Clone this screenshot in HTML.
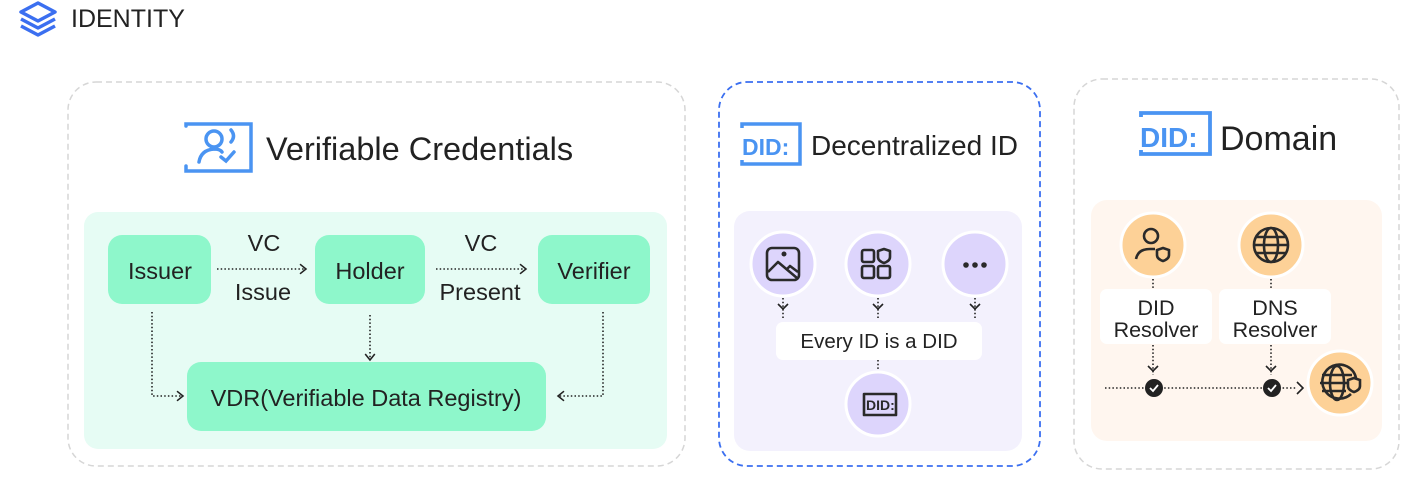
<!DOCTYPE html>
<html><head><meta charset="utf-8"><style>
html,body{margin:0;padding:0;background:#fff;}
svg{display:block;font-family:"Liberation Sans",sans-serif;}
</style></head><body>
<svg width="1419" height="487" viewBox="0 0 1419 487" xmlns="http://www.w3.org/2000/svg">
<defs>
<marker id="ar" viewBox="0 0 10 10" refX="8" refY="5" markerWidth="12" markerHeight="12" orient="auto" markerUnits="userSpaceOnUse"><path d="M3 1 L8 5 L3 9" fill="none" stroke="#222" stroke-width="1.3"/></marker>
</defs>
<!-- header -->
<g fill="none" stroke="#3b6ff0" stroke-width="3.5" stroke-linejoin="round">
<path d="M38 3 L55 12 L38 21 L21 12 Z"/>
<path d="M21 19 L38 28 L55 19"/>
<path d="M21 26 L38 35 L55 26"/>
</g>
<text x="71" y="27" font-size="25" fill="#222">IDENTITY</text>

<!-- panel 1 -->
<rect x="68" y="82" width="617" height="384" rx="28" fill="#fff" stroke="#d6d6d6" stroke-width="1.5" stroke-dasharray="6 4"/>
<g fill="none" stroke="#4a94f2" stroke-width="3.5" stroke-linecap="round">
<path d="M186 126 L186 124 L251 124 L251 171 L186 171 L186 166"/>
<circle cx="214" cy="139" r="8"/>
<path d="M199 162 Q201 150 214 149 Q220 149 222 152"/>
<path d="M231 130 Q236 136 231 142"/>
<path d="M221 157 L226 161 L234 152"/>
</g>
<text x="266" y="160" font-size="32.5" fill="#222">Verifiable Credentials</text>
<rect x="84" y="212" width="583" height="237" rx="14" fill="#e6fcf4"/>
<rect x="108" y="235" width="103" height="69" rx="14" fill="#8ef7cb"/>
<rect x="315" y="235" width="110" height="69" rx="14" fill="#8ef7cb"/>
<rect x="538" y="235" width="112" height="69" rx="14" fill="#8ef7cb"/>
<rect x="187" y="362" width="359" height="69" rx="14" fill="#8ef7cb"/>
<g font-size="23.5" fill="#222" text-anchor="middle">
<text x="160" y="279">Issuer</text>
<text x="370" y="279">Holder</text>
<text x="594" y="279">Verifier</text>
<text x="366" y="406">VDR(Verifiable Data Registry)</text>
<text x="264" y="251">VC</text>
<text x="263" y="300">Issue</text>
<text x="481" y="251">VC</text>
<text x="480" y="300">Present</text>
</g>
<g stroke="#222" stroke-width="1.6" stroke-dasharray="1.5 2.2" fill="none" marker-end="url(#ar)">
<path d="M217 269 L306 269"/>
<path d="M436 269 L526 269"/>
<path d="M370 315 L370 360"/>
<path d="M152 312 L152 396 L183 396"/>
<path d="M603 312 L603 396 L558 396"/>
</g>

<!-- panel 2 -->
<rect x="719" y="82" width="321" height="384" rx="28" fill="#fff" stroke="#3b6ff0" stroke-width="1.8" stroke-dasharray="6 4"/>
<g fill="none" stroke="#4a94f2" stroke-width="3.5">
<path d="M742 128 L742 124 L800 124 L800 164 L742 164 L742 160"/>
</g>
<text x="742" y="155" font-size="23" font-weight="bold" fill="#4a94f2">DID:</text>
<text x="811" y="155" font-size="28" fill="#222">Decentralized ID</text>
<rect x="734" y="211" width="288" height="240" rx="16" fill="#f3f1fd"/>
<g fill="#ddd5fc" stroke="#fff" stroke-width="3">
<circle cx="783" cy="264" r="32"/><circle cx="878" cy="264" r="32"/><circle cx="975" cy="264" r="32"/><circle cx="878" cy="404" r="32"/>
</g>
<g fill="none" stroke="#2a2a2a" stroke-width="2.6" stroke-linejoin="round">
<rect x="767" y="248" width="32" height="32" rx="5"/>
<path d="M768 272 L778 262 L797 278"/><path d="M786 270 L790 266 L798 272"/>
<rect x="862" y="250" width="12" height="12" rx="2"/><rect x="862" y="266" width="12" height="12" rx="2"/><rect x="878" y="266" width="12" height="12" rx="2"/>
<path d="M884 249 L890 251 L890 257 Q890 261 884 263 Q878 261 878 257 L878 251 Z"/>
<path d="M866 394 L864 394 L864 415 L896 415 L896 394 L866 394"/>
</g>
<circle cx="784" cy="254" r="2.5" fill="#2a2a2a"/>
<g fill="#2a2a2a"><circle cx="966" cy="265" r="2.8"/><circle cx="975" cy="265" r="2.8"/><circle cx="984" cy="265" r="2.8"/></g>
<text x="866" y="410" font-size="14" font-weight="bold" fill="#2a2a2a">DID:</text>
<g stroke="#222" stroke-width="1.6" stroke-dasharray="1.5 2.2" fill="none">
<path d="M783 298 L783 320"/><path d="M878 298 L878 320"/><path d="M975 298 L975 320"/><path d="M878 360 L878 370"/>
</g>
<g stroke="#222" stroke-width="1.6" fill="none">
<path d="M778 304 L783 309 L788 304"/><path d="M873 304 L878 309 L883 304"/><path d="M970 304 L975 309 L980 304"/>
</g>
<rect x="776" y="322" width="206" height="38" rx="7" fill="#fff"/>
<text x="879" y="348" font-size="20.5" fill="#222" text-anchor="middle">Every ID is a DID</text>

<!-- panel 3 -->
<rect x="1074" y="79" width="325" height="390" rx="28" fill="#fff" stroke="#d6d6d6" stroke-width="1.5" stroke-dasharray="6 4"/>
<g fill="none" stroke="#4a94f2" stroke-width="3.8">
<path d="M1141 117 L1141 113 L1210 113 L1210 154 L1141 154 L1141 150"/>
</g>
<text x="1140" y="147" font-size="28" font-weight="bold" fill="#4a94f2">DID:</text>
<text x="1220" y="150" font-size="34" fill="#222">Domain</text>
<rect x="1091" y="200" width="291" height="241" rx="16" fill="#fff6ef"/>
<g fill="#fdd197" stroke="#fff" stroke-width="3">
<circle cx="1153" cy="245" r="32"/><circle cx="1271" cy="245" r="32"/><circle cx="1340" cy="383" r="32"/>
</g>
<g fill="none" stroke="#2a2a2a" stroke-width="2.6">
<circle cx="1151" cy="236" r="7"/>
<path d="M1136 259 Q1138 249 1150 249 L1155 249"/>
<path d="M1163 248 L1169 250 L1169 255 Q1169 259 1163 261 Q1157 259 1157 255 L1157 250 Z"/>
<circle cx="1271" cy="245" r="17"/><ellipse cx="1271" cy="245" rx="7" ry="17"/><path d="M1254 245 L1288 245"/><path d="M1256 237 L1286 237 M1256 253 L1286 253"/>
<path d="M1351 394 A17 17 0 1 1 1356 378"/><ellipse cx="1337" cy="383" rx="7" ry="17"/><path d="M1320 383 L1352 383 M1322 375 L1352 375 M1322 391 L1346 391"/>
<path d="M1354 378 L1360 380 L1360 386 Q1360 390 1354 392 Q1348 390 1348 386 L1348 380 Z" fill="#fdd197"/>
</g>
<g stroke="#222" stroke-width="1.6" stroke-dasharray="1.5 2.2" fill="none">
<path d="M1153 279 L1153 289"/><path d="M1271 279 L1271 289"/>
<path d="M1153 345 L1153 375"/><path d="M1271 345 L1271 375"/>
<path d="M1105 388 L1297 388"/>
</g>
<g stroke="#222" stroke-width="1.6" fill="none">
<path d="M1148 366 L1153 371 L1158 366"/><path d="M1266 366 L1271 371 L1276 366"/><path d="M1297 382 L1303 388 L1297 394"/>
</g>
<rect x="1100" y="289" width="112" height="55" rx="7" fill="#fff"/>
<rect x="1219" y="289" width="112" height="55" rx="7" fill="#fff"/>
<g font-size="21.5" fill="#222" text-anchor="middle">
<text x="1156" y="315">DID</text><text x="1156" y="337">Resolver</text>
<text x="1275" y="315">DNS</text><text x="1275" y="337">Resolver</text>
</g>
<circle cx="1154" cy="388" r="9" fill="#222"/><circle cx="1272" cy="388" r="9" fill="#222"/>
<g stroke="#fff" stroke-width="1.8" fill="none"><path d="M1150 388 L1153 391 L1158 385"/><path d="M1268 388 L1271 391 L1276 385"/></g>
</svg>
</body></html>
